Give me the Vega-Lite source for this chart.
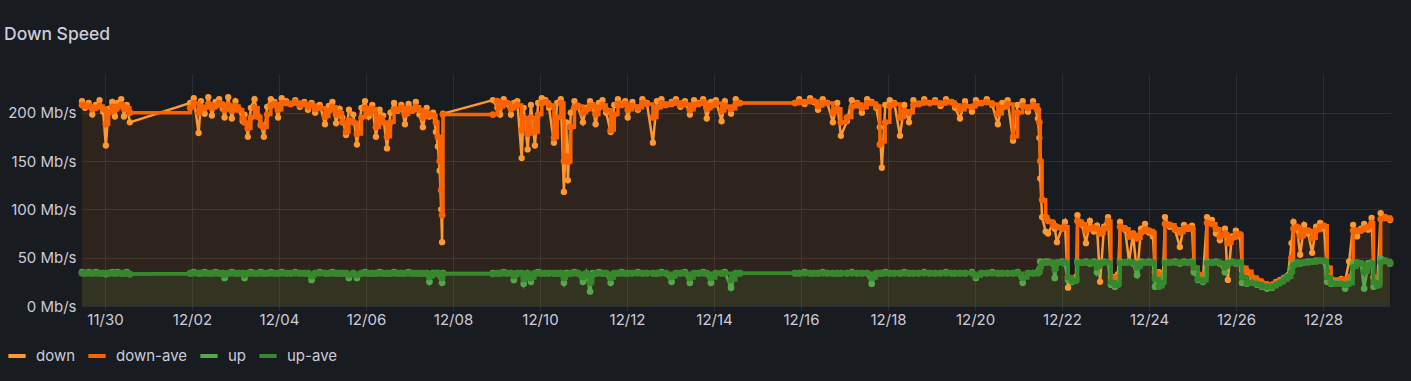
{
  "$schema": "https://vega.github.io/schema/vega-lite/v6.json",
  "width": 1309,
  "height": 232,
  "autosize": "none",
  "padding": {"left": 82, "top": 74, "right": 20, "bottom": 75},
  "background": "#181b1f",
  "title": {"text": "Down Speed", "anchor": "start", "frame": "group", "dx": -78, "offset": 17, "baseline": "alphabetic", "fontSize": 17.5, "fontWeight": 500, "color": "#ccccdc", "font": "Inter"},
  "data": {"values": [
    {"t":"2023-11-29T11:20Z","down":212,"down-ave":208,"up":35,"up-ave":34},
    {"t":"2023-11-29T13:00Z","down":205,"down-ave":207,"up":34,"up-ave":34},
    {"t":"2023-11-29T15:00Z","down":210,"down-ave":207,"up":35,"up-ave":34},
    {"t":"2023-11-29T17:00Z","down":198,"down-ave":204,"up":34,"up-ave":34},
    {"t":"2023-11-29T19:00Z","down":208,"down-ave":205,"up":35,"up-ave":34},
    {"t":"2023-11-29T21:00Z","down":213,"down-ave":207,"up":34,"up-ave":34},
    {"t":"2023-11-29T23:00Z","down":201,"down-ave":204,"up":34,"up-ave":34},
    {"t":"2023-11-30T00:30Z","down":166,"down-ave":188,"up":33,"up-ave":34},
    {"t":"2023-11-30T02:00Z","down":204,"down-ave":200,"up":34,"up-ave":34},
    {"t":"2023-11-30T04:00Z","down":211,"down-ave":206,"up":35,"up-ave":34},
    {"t":"2023-11-30T05:30Z","down":196,"down-ave":203,"up":34,"up-ave":34},
    {"t":"2023-11-30T07:00Z","down":210,"down-ave":206,"up":35,"up-ave":34},
    {"t":"2023-11-30T09:00Z","down":214,"down-ave":208,"up":34,"up-ave":34},
    {"t":"2023-11-30T10:30Z","down":196,"down-ave":204,"up":34,"up-ave":34},
    {"t":"2023-11-30T12:00Z","down":208,"down-ave":205,"up":35,"up-ave":34},
    {"t":"2023-11-30T13:45Z","down":190,"down-ave":200,"up":33,"up-ave":33},
    {"t":"2023-12-01T23:00Z","down":210,"down-ave":205,"up":34,"up-ave":34},
    {"t":"2023-12-02T01:00Z","down":215,"down-ave":210,"up":35,"up-ave":34},
    {"t":"2023-12-02T03:40Z","down":179,"down-ave":200,"up":34,"up-ave":34},
    {"t":"2023-12-02T05:00Z","down":212,"down-ave":206,"up":34,"up-ave":34},
    {"t":"2023-12-02T07:00Z","down":199,"down-ave":205,"up":35,"up-ave":34},
    {"t":"2023-12-02T09:00Z","down":216,"down-ave":209,"up":34,"up-ave":34},
    {"t":"2023-12-02T11:00Z","down":197,"down-ave":205,"up":34,"up-ave":34},
    {"t":"2023-12-02T13:00Z","down":211,"down-ave":207,"up":35,"up-ave":34},
    {"t":"2023-12-02T15:00Z","down":214,"down-ave":210,"up":34,"up-ave":34},
    {"t":"2023-12-02T17:00Z","down":204,"down-ave":208,"up":34,"up-ave":34},
    {"t":"2023-12-02T18:00Z","down":195,"down-ave":203,"up":29,"up-ave":32},
    {"t":"2023-12-02T20:00Z","down":216,"down-ave":208,"up":34,"up-ave":34},
    {"t":"2023-12-02T22:00Z","down":194,"down-ave":202,"up":35,"up-ave":34},
    {"t":"2023-12-03T00:00Z","down":212,"down-ave":207,"up":34,"up-ave":34},
    {"t":"2023-12-03T02:00Z","down":203,"down-ave":203,"up":34,"up-ave":34},
    {"t":"2023-12-03T04:00Z","down":191,"down-ave":194,"up":34,"up-ave":34},
    {"t":"2023-12-03T05:00Z","down":198,"down-ave":190,"up":29,"up-ave":32},
    {"t":"2023-12-03T06:50Z","down":175,"down-ave":184,"up":34,"up-ave":34},
    {"t":"2023-12-03T08:30Z","down":205,"down-ave":195,"up":35,"up-ave":34},
    {"t":"2023-12-03T10:30Z","down":214,"down-ave":205,"up":34,"up-ave":34},
    {"t":"2023-12-03T12:30Z","down":196,"down-ave":196,"up":34,"up-ave":34},
    {"t":"2023-12-03T14:00Z","down":188,"down-ave":187,"up":35,"up-ave":34},
    {"t":"2023-12-03T15:40Z","down":175,"down-ave":185,"up":34,"up-ave":34},
    {"t":"2023-12-03T17:30Z","down":206,"down-ave":198,"up":34,"up-ave":34},
    {"t":"2023-12-03T19:30Z","down":214,"down-ave":207,"up":35,"up-ave":34},
    {"t":"2023-12-03T21:30Z","down":211,"down-ave":209,"up":34,"up-ave":34},
    {"t":"2023-12-03T23:30Z","down":195,"down-ave":203,"up":34,"up-ave":34},
    {"t":"2023-12-04T01:30Z","down":215,"down-ave":210,"up":35,"up-ave":34},
    {"t":"2023-12-04T04:00Z","down":212,"down-ave":210,"up":34,"up-ave":34},
    {"t":"2023-12-04T06:30Z","down":209,"down-ave":209,"up":34,"up-ave":34},
    {"t":"2023-12-04T09:00Z","down":213,"down-ave":211,"up":35,"up-ave":34},
    {"t":"2023-12-04T11:30Z","down":206,"down-ave":208,"up":34,"up-ave":34},
    {"t":"2023-12-04T14:00Z","down":211,"down-ave":209,"up":34,"up-ave":34},
    {"t":"2023-12-04T16:00Z","down":203,"down-ave":206,"up":34,"up-ave":34},
    {"t":"2023-12-04T18:00Z","down":210,"down-ave":208,"up":27,"up-ave":31},
    {"t":"2023-12-04T20:00Z","down":200,"down-ave":204,"up":34,"up-ave":34},
    {"t":"2023-12-04T22:30Z","down":208,"down-ave":205,"up":35,"up-ave":34},
    {"t":"2023-12-05T01:24Z","down":188,"down-ave":196,"up":34,"up-ave":34},
    {"t":"2023-12-05T03:30Z","down":207,"down-ave":202,"up":34,"up-ave":34},
    {"t":"2023-12-05T05:30Z","down":211,"down-ave":206,"up":35,"up-ave":34},
    {"t":"2023-12-05T07:30Z","down":189,"down-ave":198,"up":34,"up-ave":34},
    {"t":"2023-12-05T09:30Z","down":204,"down-ave":200,"up":34,"up-ave":34},
    {"t":"2023-12-05T11:00Z","down":195,"down-ave":190,"up":34,"up-ave":34},
    {"t":"2023-12-05T13:00Z","down":177,"down-ave":180,"up":34,"up-ave":34},
    {"t":"2023-12-05T14:36Z","down":203,"down-ave":192,"up":29,"up-ave":32},
    {"t":"2023-12-05T17:00Z","down":198,"down-ave":190,"up":34,"up-ave":34},
    {"t":"2023-12-05T19:00Z","down":167,"down-ave":178,"up":29,"up-ave":32},
    {"t":"2023-12-05T21:30Z","down":205,"down-ave":195,"up":34,"up-ave":34},
    {"t":"2023-12-05T23:30Z","down":212,"down-ave":205,"up":35,"up-ave":34},
    {"t":"2023-12-06T01:30Z","down":196,"down-ave":200,"up":34,"up-ave":34},
    {"t":"2023-12-06T03:30Z","down":208,"down-ave":204,"up":34,"up-ave":34},
    {"t":"2023-12-06T05:30Z","down":175,"down-ave":185,"up":34,"up-ave":34},
    {"t":"2023-12-06T07:30Z","down":203,"down-ave":195,"up":35,"up-ave":34},
    {"t":"2023-12-06T09:30Z","down":197,"down-ave":190,"up":34,"up-ave":34},
    {"t":"2023-12-06T11:36Z","down":163,"down-ave":175,"up":34,"up-ave":34},
    {"t":"2023-12-06T13:30Z","down":200,"down-ave":190,"up":34,"up-ave":34},
    {"t":"2023-12-06T15:30Z","down":210,"down-ave":203,"up":35,"up-ave":34},
    {"t":"2023-12-06T17:30Z","down":202,"down-ave":203,"up":34,"up-ave":34},
    {"t":"2023-12-06T19:30Z","down":208,"down-ave":205,"up":34,"up-ave":34},
    {"t":"2023-12-06T21:30Z","down":188,"down-ave":198,"up":34,"up-ave":34},
    {"t":"2023-12-06T23:30Z","down":209,"down-ave":204,"up":35,"up-ave":34},
    {"t":"2023-12-07T01:30Z","down":203,"down-ave":202,"up":34,"up-ave":34},
    {"t":"2023-12-07T03:30Z","down":211,"down-ave":206,"up":34,"up-ave":34},
    {"t":"2023-12-07T05:30Z","down":198,"down-ave":203,"up":34,"up-ave":34},
    {"t":"2023-12-07T07:24Z","down":185,"down-ave":195,"up":34,"up-ave":34},
    {"t":"2023-12-07T09:30Z","down":205,"down-ave":200,"up":34,"up-ave":34},
    {"t":"2023-12-07T11:00Z","down":196,"down-ave":198,"up":25,"up-ave":30},
    {"t":"2023-12-07T13:00Z","down":200,"down-ave":197,"up":34,"up-ave":33},
    {"t":"2023-12-07T14:36Z","down":180,"down-ave":190,"up":34,"up-ave":34},
    {"t":"2023-12-07T15:40Z","down":165,"down-ave":175,"up":34,"up-ave":34},
    {"t":"2023-12-07T16:40Z","down":140,"down-ave":150,"up":33,"up-ave":34},
    {"t":"2023-12-07T17:30Z","down":100,"down-ave":120,"up":30,"up-ave":32},
    {"t":"2023-12-07T18:00Z","down":66,"down-ave":94,"up":24,"up-ave":29},
    {"t":"2023-12-07T18:30Z","down":199,"down-ave":198,"up":34,"up-ave":33},
    {"t":"2023-12-08T22:00Z","down":213,"down-ave":198,"up":34,"up-ave":33},
    {"t":"2023-12-09T00:30Z","down":205,"down-ave":212,"up":34,"up-ave":34},
    {"t":"2023-12-09T02:00Z","down":198,"down-ave":206,"up":34,"up-ave":34},
    {"t":"2023-12-09T04:00Z","down":214,"down-ave":210,"up":35,"up-ave":34},
    {"t":"2023-12-09T06:00Z","down":209,"down-ave":210,"up":34,"up-ave":34},
    {"t":"2023-12-09T08:00Z","down":198,"down-ave":204,"up":34,"up-ave":34},
    {"t":"2023-12-09T09:36Z","down":210,"down-ave":206,"up":27,"up-ave":31},
    {"t":"2023-12-09T11:30Z","down":212,"down-ave":208,"up":34,"up-ave":34},
    {"t":"2023-12-09T13:54Z","down":153,"down-ave":182,"up":34,"up-ave":34},
    {"t":"2023-12-09T15:00Z","down":205,"down-ave":195,"up":23,"up-ave":28},
    {"t":"2023-12-09T17:12Z","down":162,"down-ave":178,"up":34,"up-ave":34},
    {"t":"2023-12-09T19:00Z","down":208,"down-ave":195,"up":25,"up-ave":29},
    {"t":"2023-12-09T21:12Z","down":166,"down-ave":180,"up":34,"up-ave":34},
    {"t":"2023-12-09T23:00Z","down":210,"down-ave":198,"up":35,"up-ave":34},
    {"t":"2023-12-10T01:00Z","down":215,"down-ave":210,"up":34,"up-ave":34},
    {"t":"2023-12-10T03:00Z","down":213,"down-ave":211,"up":34,"up-ave":34},
    {"t":"2023-12-10T05:00Z","down":205,"down-ave":208,"up":34,"up-ave":34},
    {"t":"2023-12-10T07:42Z","down":169,"down-ave":174,"up":34,"up-ave":34},
    {"t":"2023-12-10T09:30Z","down":210,"down-ave":195,"up":34,"up-ave":34},
    {"t":"2023-12-10T11:30Z","down":214,"down-ave":210,"up":34,"up-ave":34},
    {"t":"2023-12-10T13:12Z","down":118,"down-ave":150,"up":24,"up-ave":29},
    {"t":"2023-12-10T14:30Z","down":190,"down-ave":155,"up":34,"up-ave":33},
    {"t":"2023-12-10T15:24Z","down":130,"down-ave":149,"up":34,"up-ave":33},
    {"t":"2023-12-10T17:00Z","down":200,"down-ave":185,"up":34,"up-ave":34},
    {"t":"2023-12-10T19:00Z","down":212,"down-ave":205,"up":35,"up-ave":34},
    {"t":"2023-12-10T21:00Z","down":206,"down-ave":207,"up":34,"up-ave":34},
    {"t":"2023-12-10T23:42Z","down":190,"down-ave":200,"up":25,"up-ave":30},
    {"t":"2023-12-11T01:30Z","down":205,"down-ave":203,"up":34,"up-ave":34},
    {"t":"2023-12-11T03:36Z","down":212,"down-ave":207,"up":15,"up-ave":24},
    {"t":"2023-12-11T05:00Z","down":208,"down-ave":207,"up":34,"up-ave":32},
    {"t":"2023-12-11T06:42Z","down":188,"down-ave":198,"up":34,"up-ave":34},
    {"t":"2023-12-11T08:30Z","down":210,"down-ave":205,"up":35,"up-ave":34},
    {"t":"2023-12-11T10:30Z","down":213,"down-ave":208,"up":34,"up-ave":34},
    {"t":"2023-12-11T12:30Z","down":200,"down-ave":203,"up":34,"up-ave":34},
    {"t":"2023-12-11T15:00Z","down":180,"down-ave":182,"up":24,"up-ave":29},
    {"t":"2023-12-11T17:00Z","down":208,"down-ave":198,"up":34,"up-ave":34},
    {"t":"2023-12-11T19:00Z","down":214,"down-ave":209,"up":34,"up-ave":34},
    {"t":"2023-12-11T21:00Z","down":209,"down-ave":208,"up":35,"up-ave":34},
    {"t":"2023-12-11T23:00Z","down":212,"down-ave":209,"up":34,"up-ave":34},
    {"t":"2023-12-12T00:24Z","down":195,"down-ave":203,"up":34,"up-ave":34},
    {"t":"2023-12-12T03:00Z","down":211,"down-ave":207,"up":34,"up-ave":34},
    {"t":"2023-12-12T06:00Z","down":203,"down-ave":205,"up":35,"up-ave":34},
    {"t":"2023-12-12T08:30Z","down":214,"down-ave":210,"up":34,"up-ave":34},
    {"t":"2023-12-12T11:00Z","down":210,"down-ave":209,"up":34,"up-ave":34},
    {"t":"2023-12-12T14:18Z","down":169,"down-ave":195,"up":34,"up-ave":34},
    {"t":"2023-12-12T16:30Z","down":212,"down-ave":205,"up":34,"up-ave":34},
    {"t":"2023-12-12T19:00Z","down":214,"down-ave":210,"up":35,"up-ave":34},
    {"t":"2023-12-12T21:30Z","down":208,"down-ave":208,"up":34,"up-ave":34},
    {"t":"2023-12-13T00:36Z","down":211,"down-ave":209,"up":25,"up-ave":30},
    {"t":"2023-12-13T03:00Z","down":214,"down-ave":211,"up":34,"up-ave":34},
    {"t":"2023-12-13T05:30Z","down":206,"down-ave":208,"up":34,"up-ave":34},
    {"t":"2023-12-13T08:00Z","down":212,"down-ave":209,"up":35,"up-ave":34},
    {"t":"2023-12-13T10:42Z","down":198,"down-ave":203,"up":24,"up-ave":29},
    {"t":"2023-12-13T13:00Z","down":213,"down-ave":208,"up":34,"up-ave":34},
    {"t":"2023-12-13T15:30Z","down":210,"down-ave":209,"up":34,"up-ave":34},
    {"t":"2023-12-13T18:00Z","down":214,"down-ave":211,"up":35,"up-ave":34},
    {"t":"2023-12-13T20:00Z","down":194,"down-ave":204,"up":34,"up-ave":34},
    {"t":"2023-12-13T22:18Z","down":211,"down-ave":207,"up":24,"up-ave":29},
    {"t":"2023-12-14T01:00Z","down":213,"down-ave":210,"up":34,"up-ave":34},
    {"t":"2023-12-14T04:12Z","down":191,"down-ave":202,"up":34,"up-ave":34},
    {"t":"2023-12-14T06:00Z","down":212,"down-ave":207,"up":35,"up-ave":34},
    {"t":"2023-12-14T09:24Z","down":199,"down-ave":204,"up":19,"up-ave":27},
    {"t":"2023-12-14T12:00Z","down":214,"down-ave":209,"up":34,"up-ave":34},
    {"t":"2023-12-14T14:18Z","down":210,"down-ave":210,"up":34,"up-ave":34},
    {"t":"2023-12-15T20:42Z","down":210,"down-ave":210,"up":34,"up-ave":34},
    {"t":"2023-12-15T23:00Z","down":214,"down-ave":211,"up":34,"up-ave":34},
    {"t":"2023-12-16T02:00Z","down":209,"down-ave":211,"up":35,"up-ave":34},
    {"t":"2023-12-16T05:00Z","down":215,"down-ave":212,"up":34,"up-ave":34},
    {"t":"2023-12-16T07:00Z","down":211,"down-ave":212,"up":34,"up-ave":34},
    {"t":"2023-12-16T09:24Z","down":203,"down-ave":207,"up":34,"up-ave":34},
    {"t":"2023-12-16T12:00Z","down":214,"down-ave":210,"up":35,"up-ave":34},
    {"t":"2023-12-16T14:30Z","down":210,"down-ave":210,"up":34,"up-ave":34},
    {"t":"2023-12-16T17:36Z","down":190,"down-ave":200,"up":34,"up-ave":34},
    {"t":"2023-12-16T20:00Z","down":210,"down-ave":204,"up":34,"up-ave":34},
    {"t":"2023-12-16T22:00Z","down":176,"down-ave":190,"up":34,"up-ave":34},
    {"t":"2023-12-17T01:18Z","down":191,"down-ave":195,"up":34,"up-ave":34},
    {"t":"2023-12-17T04:00Z","down":213,"down-ave":206,"up":35,"up-ave":34},
    {"t":"2023-12-17T07:00Z","down":210,"down-ave":209,"up":34,"up-ave":34},
    {"t":"2023-12-17T09:36Z","down":200,"down-ave":205,"up":34,"up-ave":34},
    {"t":"2023-12-17T12:30Z","down":214,"down-ave":210,"up":34,"up-ave":34},
    {"t":"2023-12-17T15:00Z","down":211,"down-ave":210,"up":23,"up-ave":29},
    {"t":"2023-12-17T17:30Z","down":205,"down-ave":207,"up":34,"up-ave":34},
    {"t":"2023-12-17T19:30Z","down":185,"down-ave":167,"up":34,"up-ave":34},
    {"t":"2023-12-17T20:36Z","down":143,"down-ave":170,"up":34,"up-ave":34},
    {"t":"2023-12-17T22:30Z","down":208,"down-ave":190,"up":35,"up-ave":34},
    {"t":"2023-12-18T01:00Z","down":213,"down-ave":207,"up":34,"up-ave":34},
    {"t":"2023-12-18T03:30Z","down":210,"down-ave":209,"up":34,"up-ave":34},
    {"t":"2023-12-18T06:36Z","down":176,"down-ave":195,"up":34,"up-ave":34},
    {"t":"2023-12-18T09:00Z","down":208,"down-ave":202,"up":35,"up-ave":34},
    {"t":"2023-12-18T11:36Z","down":190,"down-ave":200,"up":34,"up-ave":34},
    {"t":"2023-12-18T14:00Z","down":213,"down-ave":208,"up":34,"up-ave":34},
    {"t":"2023-12-18T17:00Z","down":209,"down-ave":209,"up":34,"up-ave":34},
    {"t":"2023-12-18T20:00Z","down":214,"down-ave":211,"up":35,"up-ave":34},
    {"t":"2023-12-18T23:00Z","down":210,"down-ave":210,"up":34,"up-ave":34},
    {"t":"2023-12-19T02:00Z","down":213,"down-ave":211,"up":34,"up-ave":34},
    {"t":"2023-12-19T05:00Z","down":207,"down-ave":209,"up":34,"up-ave":34},
    {"t":"2023-12-19T08:00Z","down":214,"down-ave":211,"up":35,"up-ave":34},
    {"t":"2023-12-19T11:00Z","down":211,"down-ave":211,"up":34,"up-ave":34},
    {"t":"2023-12-19T13:00Z","down":205,"down-ave":208,"up":34,"up-ave":34},
    {"t":"2023-12-19T15:42Z","down":194,"down-ave":203,"up":34,"up-ave":34},
    {"t":"2023-12-19T18:30Z","down":212,"down-ave":207,"up":34,"up-ave":34},
    {"t":"2023-12-19T22:18Z","down":201,"down-ave":206,"up":35,"up-ave":34},
    {"t":"2023-12-20T00:30Z","down":213,"down-ave":209,"up":29,"up-ave":31},
    {"t":"2023-12-20T03:30Z","down":210,"down-ave":210,"up":34,"up-ave":34},
    {"t":"2023-12-20T06:30Z","down":214,"down-ave":211,"up":34,"up-ave":34},
    {"t":"2023-12-20T09:30Z","down":208,"down-ave":209,"up":35,"up-ave":34},
    {"t":"2023-12-20T12:36Z","down":188,"down-ave":199,"up":34,"up-ave":34},
    {"t":"2023-12-20T15:00Z","down":210,"down-ave":205,"up":34,"up-ave":34},
    {"t":"2023-12-20T18:00Z","down":213,"down-ave":209,"up":34,"up-ave":34},
    {"t":"2023-12-20T21:00Z","down":171,"down-ave":175,"up":34,"up-ave":34},
    {"t":"2023-12-20T23:30Z","down":208,"down-ave":200,"up":35,"up-ave":34},
    {"t":"2023-12-21T02:18Z","down":212,"down-ave":207,"up":24,"up-ave":29},
    {"t":"2023-12-21T05:12Z","down":201,"down-ave":205,"up":34,"up-ave":34},
    {"t":"2023-12-21T08:00Z","down":212,"down-ave":208,"up":34,"up-ave":34},
    {"t":"2023-12-21T10:42Z","down":194,"down-ave":203,"up":35,"up-ave":34},
    {"t":"2023-12-21T11:30Z","down":174,"down-ave":190,"up":38,"up-ave":35},
    {"t":"2023-12-21T12:00Z","down":132,"down-ave":150,"up":46,"up-ave":40},
    {"t":"2023-12-21T13:00Z","down":92,"down-ave":110,"up":45,"up-ave":44},
    {"t":"2023-12-21T15:00Z","down":77,"down-ave":92,"up":46,"up-ave":45},
    {"t":"2023-12-21T16:18Z","down":75,"down-ave":88,"up":46,"up-ave":45},
    {"t":"2023-12-21T19:00Z","down":86,"down-ave":84,"up":44,"up-ave":45},
    {"t":"2023-12-21T20:00Z","down":80,"down-ave":83,"up":29,"up-ave":38},
    {"t":"2023-12-21T21:12Z","down":66,"down-ave":82,"up":45,"up-ave":44},
    {"t":"2023-12-22T00:00Z","down":81,"down-ave":80,"up":46,"up-ave":45},
    {"t":"2023-12-22T01:36Z","down":87,"down-ave":82,"up":44,"up-ave":45},
    {"t":"2023-12-22T03:18Z","down":19,"down-ave":30,"up":27,"up-ave":30},
    {"t":"2023-12-22T05:30Z","down":28,"down-ave":27,"up":25,"up-ave":26},
    {"t":"2023-12-22T07:42Z","down":30,"down-ave":28,"up":27,"up-ave":26},
    {"t":"2023-12-22T08:30Z","down":94,"down-ave":88,"up":46,"up-ave":44},
    {"t":"2023-12-22T11:00Z","down":84,"down-ave":85,"up":45,"up-ave":45},
    {"t":"2023-12-22T13:12Z","down":65,"down-ave":78,"up":46,"up-ave":45},
    {"t":"2023-12-22T15:24Z","down":88,"down-ave":80,"up":44,"up-ave":45},
    {"t":"2023-12-22T17:36Z","down":77,"down-ave":81,"up":46,"up-ave":45},
    {"t":"2023-12-22T19:18Z","down":83,"down-ave":80,"up":35,"up-ave":40},
    {"t":"2023-12-22T21:00Z","down":25,"down-ave":75,"up":45,"up-ave":44},
    {"t":"2023-12-22T23:12Z","down":82,"down-ave":80,"up":46,"up-ave":45},
    {"t":"2023-12-23T01:24Z","down":92,"down-ave":88,"up":45,"up-ave":45},
    {"t":"2023-12-23T03:00Z","down":27,"down-ave":30,"up":22,"up-ave":25},
    {"t":"2023-12-23T05:12Z","down":30,"down-ave":28,"up":20,"up-ave":22},
    {"t":"2023-12-23T06:54Z","down":33,"down-ave":30,"up":24,"up-ave":22},
    {"t":"2023-12-23T08:00Z","down":87,"down-ave":82,"up":46,"up-ave":44},
    {"t":"2023-12-23T10:48Z","down":79,"down-ave":80,"up":45,"up-ave":45},
    {"t":"2023-12-23T13:00Z","down":46,"down-ave":72,"up":46,"up-ave":45},
    {"t":"2023-12-23T15:12Z","down":75,"down-ave":74,"up":44,"up-ave":45},
    {"t":"2023-12-23T17:24Z","down":32,"down-ave":70,"up":32,"up-ave":40},
    {"t":"2023-12-23T19:36Z","down":80,"down-ave":76,"up":46,"up-ave":44},
    {"t":"2023-12-23T21:48Z","down":85,"down-ave":79,"up":45,"up-ave":45},
    {"t":"2023-12-24T00:00Z","down":76,"down-ave":78,"up":46,"up-ave":45},
    {"t":"2023-12-24T02:12Z","down":72,"down-ave":76,"up":45,"up-ave":45},
    {"t":"2023-12-24T03:18Z","down":29,"down-ave":35,"up":20,"up-ave":28},
    {"t":"2023-12-24T05:30Z","down":35,"down-ave":30,"up":22,"up-ave":20},
    {"t":"2023-12-24T07:42Z","down":32,"down-ave":32,"up":29,"up-ave":24},
    {"t":"2023-12-24T08:48Z","down":92,"down-ave":85,"up":46,"up-ave":44},
    {"t":"2023-12-24T11:30Z","down":82,"down-ave":84,"up":45,"up-ave":45},
    {"t":"2023-12-24T14:18Z","down":79,"down-ave":80,"up":46,"up-ave":45},
    {"t":"2023-12-24T17:00Z","down":61,"down-ave":76,"up":44,"up-ave":45},
    {"t":"2023-12-24T19:18Z","down":84,"down-ave":80,"up":46,"up-ave":45},
    {"t":"2023-12-24T21:30Z","down":80,"down-ave":81,"up":45,"up-ave":45},
    {"t":"2023-12-24T23:42Z","down":83,"down-ave":80,"up":46,"up-ave":45},
    {"t":"2023-12-25T00:48Z","down":36,"down-ave":40,"up":35,"up-ave":40},
    {"t":"2023-12-25T03:00Z","down":32,"down-ave":33,"up":27,"up-ave":28},
    {"t":"2023-12-25T05:48Z","down":30,"down-ave":31,"up":25,"up-ave":26},
    {"t":"2023-12-25T08:00Z","down":92,"down-ave":86,"up":46,"up-ave":44},
    {"t":"2023-12-25T10:42Z","down":89,"down-ave":85,"up":45,"up-ave":45},
    {"t":"2023-12-25T12:54Z","down":75,"down-ave":80,"up":46,"up-ave":45},
    {"t":"2023-12-25T15:06Z","down":68,"down-ave":72,"up":44,"up-ave":45},
    {"t":"2023-12-25T17:54Z","down":80,"down-ave":75,"up":35,"up-ave":40},
    {"t":"2023-12-25T19:30Z","down":27,"down-ave":65,"up":45,"up-ave":44},
    {"t":"2023-12-25T21:42Z","down":72,"down-ave":70,"up":46,"up-ave":45},
    {"t":"2023-12-25T23:54Z","down":78,"down-ave":74,"up":44,"up-ave":45},
    {"t":"2023-12-26T02:12Z","down":72,"down-ave":74,"up":45,"up-ave":45},
    {"t":"2023-12-26T03:18Z","down":37,"down-ave":40,"up":24,"up-ave":30},
    {"t":"2023-12-26T06:00Z","down":35,"down-ave":36,"up":23,"up-ave":24},
    {"t":"2023-12-26T08:48Z","down":29,"down-ave":30,"up":25,"up-ave":24},
    {"t":"2023-12-26T11:36Z","down":26,"down-ave":27,"up":22,"up-ave":23},
    {"t":"2023-12-26T14:18Z","down":22,"down-ave":24,"up":20,"up-ave":21},
    {"t":"2023-12-26T17:06Z","down":19,"down-ave":22,"up":18,"up-ave":20},
    {"t":"2023-12-26T19:54Z","down":22,"down-ave":22,"up":19,"up-ave":20},
    {"t":"2023-12-26T22:06Z","down":25,"down-ave":24,"up":22,"up-ave":22},
    {"t":"2023-12-27T00:18Z","down":27,"down-ave":26,"up":25,"up-ave":24},
    {"t":"2023-12-27T02:30Z","down":29,"down-ave":28,"up":29,"up-ave":27},
    {"t":"2023-12-27T04:42Z","down":32,"down-ave":30,"up":31,"up-ave":30},
    {"t":"2023-12-27T06:36Z","down":65,"down-ave":50,"up":40,"up-ave":35},
    {"t":"2023-12-27T07:42Z","down":87,"down-ave":80,"up":44,"up-ave":42},
    {"t":"2023-12-27T09:42Z","down":79,"down-ave":82,"up":45,"up-ave":44},
    {"t":"2023-12-27T11:24Z","down":53,"down-ave":72,"up":44,"up-ave":45},
    {"t":"2023-12-27T13:36Z","down":84,"down-ave":78,"up":45,"up-ave":45},
    {"t":"2023-12-27T15:48Z","down":75,"down-ave":78,"up":46,"up-ave":45},
    {"t":"2023-12-27T18:00Z","down":55,"down-ave":70,"up":46,"up-ave":46},
    {"t":"2023-12-27T20:12Z","down":82,"down-ave":78,"up":47,"up-ave":46},
    {"t":"2023-12-27T22:24Z","down":86,"down-ave":82,"up":47,"up-ave":47},
    {"t":"2023-12-28T00:36Z","down":80,"down-ave":83,"up":46,"up-ave":47},
    {"t":"2023-12-28T02:18Z","down":32,"down-ave":40,"up":25,"up-ave":30},
    {"t":"2023-12-28T04:30Z","down":27,"down-ave":28,"up":23,"up-ave":24},
    {"t":"2023-12-28T07:18Z","down":25,"down-ave":26,"up":24,"up-ave":23},
    {"t":"2023-12-28T10:00Z","down":28,"down-ave":27,"up":23,"up-ave":23},
    {"t":"2023-12-28T12:12Z","down":26,"down-ave":27,"up":18,"up-ave":22},
    {"t":"2023-12-28T14:24Z","down":46,"down-ave":30,"up":24,"up-ave":23},
    {"t":"2023-12-28T16:36Z","down":84,"down-ave":78,"up":44,"up-ave":40},
    {"t":"2023-12-28T18:48Z","down":72,"down-ave":78,"up":45,"up-ave":44},
    {"t":"2023-12-28T21:00Z","down":80,"down-ave":78,"up":44,"up-ave":44},
    {"t":"2023-12-28T22:42Z","down":85,"down-ave":80,"up":18,"up-ave":35},
    {"t":"2023-12-29T00:54Z","down":79,"down-ave":82,"up":44,"up-ave":42},
    {"t":"2023-12-29T02:48Z","down":91,"down-ave":86,"up":45,"up-ave":44},
    {"t":"2023-12-29T03:54Z","down":29,"down-ave":30,"up":20,"up-ave":25},
    {"t":"2023-12-29T05:54Z","down":22,"down-ave":24,"up":22,"up-ave":21},
    {"t":"2023-12-29T07:48Z","down":96,"down-ave":90,"up":49,"up-ave":45},
    {"t":"2023-12-29T10:18Z","down":91,"down-ave":92,"up":47,"up-ave":47},
    {"t":"2023-12-29T13:00Z","down":89,"down-ave":90,"up":44,"up-ave":45}
  ]},
  "transform": [{"fold": ["down", "down-ave", "up", "up-ave"], "as": ["series", "v"]}],
  "encoding": {
    "x": {
      "field": "t", "type": "temporal",
      "scale": {"type": "utc", "domain": [
        {"year": 2023, "month": 11, "date": 29, "hours": 11, "minutes": 20, "utc": true},
        {"year": 2023, "month": 12, "date": 29, "hours": 13, "minutes": 30, "utc": true}
      ]},
      "axis": {
        "title": null, "format": "%m/%d", "domain": false, "tickSize": 4, "tickColor": "rgba(240,250,255,0.09)",
        "labelPadding": 2, "labelFontSize": 15, "labelColor": "#ccccdc", "labelFont": "Inter",
        "gridColor": "rgba(240,250,255,0.09)", "labelFlush": false,
        "values": [
          {"year": 2023, "month": 11, "date": 30, "utc": true},
          {"year": 2023, "month": 12, "date": 2, "utc": true},
          {"year": 2023, "month": 12, "date": 4, "utc": true},
          {"year": 2023, "month": 12, "date": 6, "utc": true},
          {"year": 2023, "month": 12, "date": 8, "utc": true},
          {"year": 2023, "month": 12, "date": 10, "utc": true},
          {"year": 2023, "month": 12, "date": 12, "utc": true},
          {"year": 2023, "month": 12, "date": 14, "utc": true},
          {"year": 2023, "month": 12, "date": 16, "utc": true},
          {"year": 2023, "month": 12, "date": 18, "utc": true},
          {"year": 2023, "month": 12, "date": 20, "utc": true},
          {"year": 2023, "month": 12, "date": 22, "utc": true},
          {"year": 2023, "month": 12, "date": 24, "utc": true},
          {"year": 2023, "month": 12, "date": 26, "utc": true},
          {"year": 2023, "month": 12, "date": 28, "utc": true}
        ]
      }
    },
    "y": {
      "field": "v", "type": "quantitative",
      "scale": {"domain": [0, 240], "nice": false},
      "axis": {
        "title": null, "values": [0, 50, 100, 150, 200], "labelExpr": "datum.value + ' Mb/s'",
        "domain": false, "ticks": false, "labelPadding": 6, "labelFontSize": 15, "labelColor": "#ccccdc", "labelFont": "Inter",
        "gridColor": "rgba(240,250,255,0.09)"
      }
    }
  },
  "layer": [
    {"transform": [{"filter": "datum.series === 'down'"}], "mark": {"type": "area", "color": "#FF9830", "opacity": 0.05, "interpolate": "linear"}, "encoding": {"y": {"field": "v", "type": "quantitative", "stack": null}}},
    {"transform": [{"filter": "datum.series === 'down-ave'"}], "mark": {"type": "area", "color": "#FA6400", "opacity": 0.05, "interpolate": "step-after"}, "encoding": {"y": {"field": "v", "type": "quantitative", "stack": null}}},
    {"transform": [{"filter": "datum.series === 'up'"}], "mark": {"type": "area", "color": "#73BF69", "opacity": 0.07, "interpolate": "linear"}, "encoding": {"y": {"field": "v", "type": "quantitative", "stack": null}}},
    {"transform": [{"filter": "datum.series === 'up-ave'"}], "mark": {"type": "area", "color": "#37872D", "opacity": 0.07, "interpolate": "step-after"}, "encoding": {"y": {"field": "v", "type": "quantitative", "stack": null}}},
    {"transform": [{"filter": "datum.series === 'down'"}], "mark": {"type": "line", "strokeWidth": 2.5, "interpolate": "linear", "point": {"filled": true, "size": 40}}, "encoding": {"color": {"field": "series", "type": "nominal"}}},
    {"transform": [{"filter": "datum.series === 'down-ave'"}], "mark": {"type": "line", "strokeWidth": 3.5, "interpolate": "step-after", "point": {"filled": true, "size": 45}}, "encoding": {"color": {"field": "series", "type": "nominal"}}},
    {"transform": [{"filter": "datum.series === 'up'"}], "mark": {"type": "line", "strokeWidth": 3, "interpolate": "linear", "point": {"filled": true, "size": 45}}, "encoding": {"color": {"field": "series", "type": "nominal"}}},
    {"transform": [{"filter": "datum.series === 'up-ave'"}], "mark": {"type": "line", "strokeWidth": 3.5, "interpolate": "step-after", "point": {"filled": true, "size": 45}}, "encoding": {"color": {"field": "series", "type": "nominal"}}}
  ],
  "resolve": {"scale": {"color": "shared"}},
  "config": {
    "view": {"stroke": null},
    "font": "Inter",
    "range": {"category": ["#FF9830", "#FA6400", "#56A64B", "#37872D"]},
    "legend": {
      "orient": "none", "legendX": -76, "legendY": 271, "direction": "horizontal", "columns": 4,
      "title": null, "symbolType": "stroke", "symbolSize": 300, "symbolStrokeWidth": 4,
      "labelFontSize": 15, "labelColor": "#ccccdc", "labelFont": "Inter", "columnPadding": 4, "labelOffset": 8
    }
  }
}
